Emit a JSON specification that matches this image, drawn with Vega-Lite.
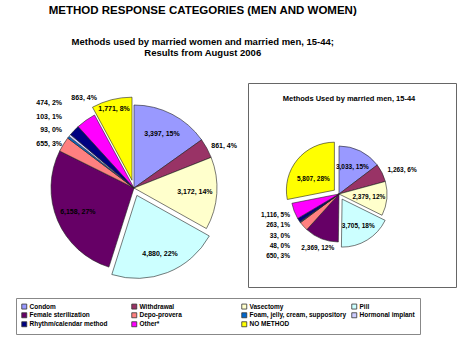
{
  "$schema": "https://vega.github.io/schema/vega-lite/v6.json",
  "padding": 5,
  "background": "white",
  "bounds": "flush",
  "title": {
    "text": "METHOD RESPONSE CATEGORIES (MEN AND WOMEN)",
    "subtitle": ["Methods used by married women and married men, 15-44;", "Results from August 2006"],
    "anchor": "middle", "dx": -28, "fontSize": 11.5, "font": "Liberation Sans", "fontWeight": "bold", "color": "black",
    "subtitleFont": "Liberation Sans", "subtitleFontWeight": "bold", "subtitleFontSize": 9.5, "subtitleColor": "black",
    "subtitlePadding": 20, "subtitleLineHeight": 11, "offset": 22
  },
  "datasets": {
    "women": [
      {"idx": 1, "method": "Condom", "value": 3397, "label": "3,397, 15%"},
      {"idx": 2, "method": "Withdrawal", "value": 861, "label": "861, 4%"},
      {"idx": 3, "method": "Vasectomy", "value": 3172, "label": "3,172, 14%"},
      {"idx": 4, "method": "Pill", "value": 4880, "label": "4,880, 22%"},
      {"idx": 5, "method": "Female sterilization", "value": 6158, "label": "6,158, 27%"},
      {"idx": 6, "method": "Depo-provera", "value": 655, "label": "655, 3%"},
      {"idx": 7, "method": "Foam, jelly, cream, suppository", "value": 93, "label": "93, 0%"},
      {"idx": 8, "method": "Hormonal implant", "value": 103, "label": "103, 1%"},
      {"idx": 9, "method": "Rhythm/calendar method", "value": 474, "label": "474, 2%"},
      {"idx": 10, "method": "Other*", "value": 863, "label": "863, 4%"},
      {"idx": 11, "method": "NO METHOD", "value": 1771, "label": "1,771, 8%"}
    ],
    "men": [
      {"idx": 1, "method": "Condom", "value": 3033, "label": "3,033, 15%"},
      {"idx": 2, "method": "Withdrawal", "value": 1263, "label": "1,263, 6%"},
      {"idx": 3, "method": "Vasectomy", "value": 2379, "label": "2,379, 12%"},
      {"idx": 4, "method": "Pill", "value": 3705, "label": "3,705, 18%"},
      {"idx": 5, "method": "Female sterilization", "value": 2369, "label": "2,369, 12%"},
      {"idx": 6, "method": "Depo-provera", "value": 650, "label": "650, 3%"},
      {"idx": 7, "method": "Foam, jelly, cream, suppository", "value": 48, "label": "48, 0%"},
      {"idx": 8, "method": "Hormonal implant", "value": 33, "label": "33, 0%"},
      {"idx": 9, "method": "Rhythm/calendar method", "value": 263, "label": "263, 1%"},
      {"idx": 10, "method": "Other*", "value": 1116, "label": "1,116, 5%"},
      {"idx": 11, "method": "NO METHOD", "value": 5807, "label": "5,807, 28%"}
    ]
  },
  "spacing": 0,
  "hconcat": [
    {
      "width": 243, "height": 204,
      "data": {"name": "women"},
      "layer": [
        {
          "mark": {"type": "arc", "outerRadius": 83, "xOffset": 7.5, "yOffset": 3, "stroke": "#222", "strokeWidth": 0.6},
          "encoding": {
            "theta": {"field": "value", "type": "quantitative", "stack": true},
            "order": {"field": "idx", "type": "quantitative"},
            "color": {"field": "method", "type": "nominal",
              "scale": {"domain": ["Condom", "Withdrawal", "Vasectomy", "Pill", "Female sterilization", "Depo-provera", "Foam, jelly, cream, suppository", "Hormonal implant", "Rhythm/calendar method", "Other*", "NO METHOD"], "range": ["#9999FF", "#993366", "#FFFFCC", "#CCFFFF", "#660066", "#FF8080", "#0066CC", "#CCCCFF", "#000080", "#FF00FF", "#FFFF00"]},
              "legend": {"orient": "none", "legendX": 11, "legendY": 215, "direction": "horizontal", "columns": 4, "title": null}},
            "opacity": {"condition": {"test": "datum.method === 'Pill' || datum.method === 'NO METHOD'", "value": 0}, "value": 1}
          }
        },
        {
          "mark": {"type": "arc", "outerRadius": 83, "xOffset": 10.4, "yOffset": 10.4, "stroke": "#222", "strokeWidth": 0.6},
          "encoding": {
            "theta": {"field": "value", "type": "quantitative", "stack": true},
            "order": {"field": "idx", "type": "quantitative"},
            "color": {"field": "method", "type": "nominal"},
            "opacity": {"condition": {"test": "datum.method === 'Pill'", "value": 1}, "value": 0}
          }
        },
        {
          "mark": {"type": "arc", "outerRadius": 83, "xOffset": 5.5, "yOffset": -4.8, "stroke": "#222", "strokeWidth": 0.6},
          "encoding": {
            "theta": {"field": "value", "type": "quantitative", "stack": true},
            "order": {"field": "idx", "type": "quantitative"},
            "color": {"field": "method", "type": "nominal"},
            "opacity": {"condition": {"test": "datum.method === 'NO METHOD'", "value": 1}, "value": 0}
          }
        },
        {
          "mark": {"type": "text", "radius": 61, "xOffset": 7.5, "yOffset": 3, "font": "Liberation Sans", "fontWeight": "bold", "fontSize": 7, "fill": "black"},
          "encoding": {
            "theta": {"field": "value", "type": "quantitative", "stack": true},
            "order": {"field": "idx", "type": "quantitative"},
            "detail": {"field": "method"},
            "text": {"condition": {"test": "indexof(['Condom','Vasectomy','Female sterilization'], datum.method) >= 0", "field": "label"}, "value": ""}
          }
        },
        {
          "mark": {"type": "text", "radius": 63, "xOffset": 10.4, "yOffset": 10.4, "font": "Liberation Sans", "fontWeight": "bold", "fontSize": 7, "fill": "black"},
          "encoding": {
            "theta": {"field": "value", "type": "quantitative", "stack": true},
            "order": {"field": "idx", "type": "quantitative"},
            "detail": {"field": "method"},
            "text": {"condition": {"test": "datum.method === 'Pill'", "field": "label"}, "value": ""}
          }
        },
        {
          "mark": {"type": "text", "radius": 73, "xOffset": 5.5, "yOffset": -4.8, "font": "Liberation Sans", "fontWeight": "bold", "fontSize": 7, "fill": "black"},
          "encoding": {
            "theta": {"field": "value", "type": "quantitative", "stack": true},
            "order": {"field": "idx", "type": "quantitative"},
            "detail": {"field": "method"},
            "text": {"condition": {"test": "datum.method === 'NO METHOD'", "field": "label"}, "value": ""}
          }
        },
        {
          "mark": {"type": "text", "radius": 88, "align": "left", "xOffset": 7.5, "yOffset": 3, "font": "Liberation Sans", "fontWeight": "bold", "fontSize": 7, "fill": "black"},
          "encoding": {
            "theta": {"field": "value", "type": "quantitative", "stack": true},
            "order": {"field": "idx", "type": "quantitative"},
            "detail": {"field": "method"},
            "text": {"condition": {"test": "datum.method === 'Withdrawal'", "field": "label"}, "value": ""}
          }
        },
        {
          "mark": {"type": "text", "radius": 100, "xOffset": 15.5, "yOffset": -5, "font": "Liberation Sans", "fontWeight": "bold", "fontSize": 7, "fill": "black"},
          "encoding": {
            "theta": {"field": "value", "type": "quantitative", "stack": true},
            "order": {"field": "idx", "type": "quantitative"},
            "detail": {"field": "method"},
            "text": {"condition": {"test": "datum.method === 'Other*'", "field": "label"}, "value": ""}
          }
        },
        {
          "transform": [{"filter": {"field": "method", "oneOf": ["Rhythm/calendar method", "Hormonal implant", "Foam, jelly, cream, suppository", "Depo-provera"]}}],
          "mark": {"type": "text", "align": "right", "font": "Liberation Sans", "fontWeight": "bold", "fontSize": 7, "fill": "black"},
          "encoding": {
            "y": {"field": "method", "type": "nominal", "axis": null, "scale": {"type": "point", "padding": 0, "domain": ["Rhythm/calendar method", "Hormonal implant", "Foam, jelly, cream, suppository", "Depo-provera"], "range": [20, 61]}},
            "x": {"value": 57},
            "text": {"field": "label"}
          }
        }
      ]
    },
    {
      "width": 208, "height": 204,
      "view": {"stroke": "#666", "strokeWidth": 1},
      "title": {"text": "Methods Used by married men, 15-44", "offset": -19, "dx": -3, "fontSize": 7.5, "font": "Liberation Sans", "fontWeight": "bold", "color": "black"},
      "data": {"name": "men"},
      "layer": [
        {
          "mark": {"type": "arc", "outerRadius": 48, "xOffset": -13, "yOffset": 9, "stroke": "#222", "strokeWidth": 0.6},
          "encoding": {
            "theta": {"field": "value", "type": "quantitative", "stack": true},
            "order": {"field": "idx", "type": "quantitative"},
            "color": {"field": "method", "type": "nominal"},
            "opacity": {"condition": {"test": "datum.method === 'Pill' || datum.method === 'NO METHOD'", "value": 0}, "value": 1}
          }
        },
        {
          "mark": {"type": "arc", "outerRadius": 48, "xOffset": -9.9, "yOffset": 14.1, "stroke": "#222", "strokeWidth": 0.6},
          "encoding": {
            "theta": {"field": "value", "type": "quantitative", "stack": true},
            "order": {"field": "idx", "type": "quantitative"},
            "color": {"field": "method", "type": "nominal"},
            "opacity": {"condition": {"test": "datum.method === 'Pill'", "value": 1}, "value": 0}
          }
        },
        {
          "mark": {"type": "arc", "outerRadius": 48, "xOffset": -17.6, "yOffset": 5.2, "stroke": "#222", "strokeWidth": 0.6},
          "encoding": {
            "theta": {"field": "value", "type": "quantitative", "stack": true},
            "order": {"field": "idx", "type": "quantitative"},
            "color": {"field": "method", "type": "nominal"},
            "opacity": {"condition": {"test": "datum.method === 'NO METHOD'", "value": 1}, "value": 0}
          }
        },
        {
          "mark": {"type": "text", "radius": 30, "xOffset": -13, "yOffset": 9, "font": "Liberation Sans", "fontWeight": "bold", "fontSize": 6.5, "fill": "black"},
          "encoding": {
            "theta": {"field": "value", "type": "quantitative", "stack": true},
            "order": {"field": "idx", "type": "quantitative"},
            "detail": {"field": "method"},
            "text": {"condition": {"test": "indexof(['Condom','Vasectomy'], datum.method) >= 0", "field": "label"}, "value": ""}
          }
        },
        {
          "mark": {"type": "text", "radius": 31, "xOffset": -9.9, "yOffset": 14.1, "font": "Liberation Sans", "fontWeight": "bold", "fontSize": 6.5, "fill": "black"},
          "encoding": {
            "theta": {"field": "value", "type": "quantitative", "stack": true},
            "order": {"field": "idx", "type": "quantitative"},
            "detail": {"field": "method"},
            "text": {"condition": {"test": "datum.method === 'Pill'", "field": "label"}, "value": ""}
          }
        },
        {
          "mark": {"type": "text", "radius": 28, "xOffset": -17, "yOffset": 12, "font": "Liberation Sans", "fontWeight": "bold", "fontSize": 6.5, "fill": "black"},
          "encoding": {
            "theta": {"field": "value", "type": "quantitative", "stack": true},
            "order": {"field": "idx", "type": "quantitative"},
            "detail": {"field": "method"},
            "text": {"condition": {"test": "datum.method === 'NO METHOD'", "field": "label"}, "value": ""}
          }
        },
        {
          "mark": {"type": "text", "radius": 54, "align": "left", "xOffset": -13, "yOffset": 9, "font": "Liberation Sans", "fontWeight": "bold", "fontSize": 6.5, "fill": "black"},
          "encoding": {
            "theta": {"field": "value", "type": "quantitative", "stack": true},
            "order": {"field": "idx", "type": "quantitative"},
            "detail": {"field": "method"},
            "text": {"condition": {"test": "datum.method === 'Withdrawal'", "field": "label"}, "value": ""}
          }
        },
        {
          "mark": {"type": "text", "radius": 58, "xOffset": -13, "yOffset": 9, "font": "Liberation Sans", "fontWeight": "bold", "fontSize": 6.5, "fill": "black"},
          "encoding": {
            "theta": {"field": "value", "type": "quantitative", "stack": true},
            "order": {"field": "idx", "type": "quantitative"},
            "detail": {"field": "method"},
            "text": {"condition": {"test": "datum.method === 'Female sterilization'", "field": "label"}, "value": ""}
          }
        },
        {
          "transform": [{"filter": {"field": "method", "oneOf": ["Other*", "Rhythm/calendar method", "Hormonal implant", "Foam, jelly, cream, suppository", "Depo-provera"]}}],
          "mark": {"type": "text", "align": "right", "font": "Liberation Sans", "fontWeight": "bold", "fontSize": 6.5, "fill": "black"},
          "encoding": {
            "y": {"field": "method", "type": "nominal", "axis": null, "scale": {"type": "point", "padding": 0, "domain": ["Other*", "Rhythm/calendar method", "Hormonal implant", "Foam, jelly, cream, suppository", "Depo-provera"], "range": [132, 173]}},
            "x": {"value": 42},
            "text": {"field": "label"}
          }
        }
      ]
    }
  ],
  "config": {
    "view": {"stroke": null},
    "font": "Liberation Sans",
    "legend": {
      "symbolType": "square", "symbolSize": 25, "symbolStrokeColor": "#333", "symbolStrokeWidth": 0.8,
      "labelFontSize": 6.5, "labelFont": "Liberation Sans", "labelFontWeight": "bold", "labelColor": "black",
      "gridAlign": "all", "columnPadding": 3, "rowPadding": 0, "strokeColor": "#888", "padding": 5,
      "labelOffset": 2, "labelLimit": 200
    }
  }
}
